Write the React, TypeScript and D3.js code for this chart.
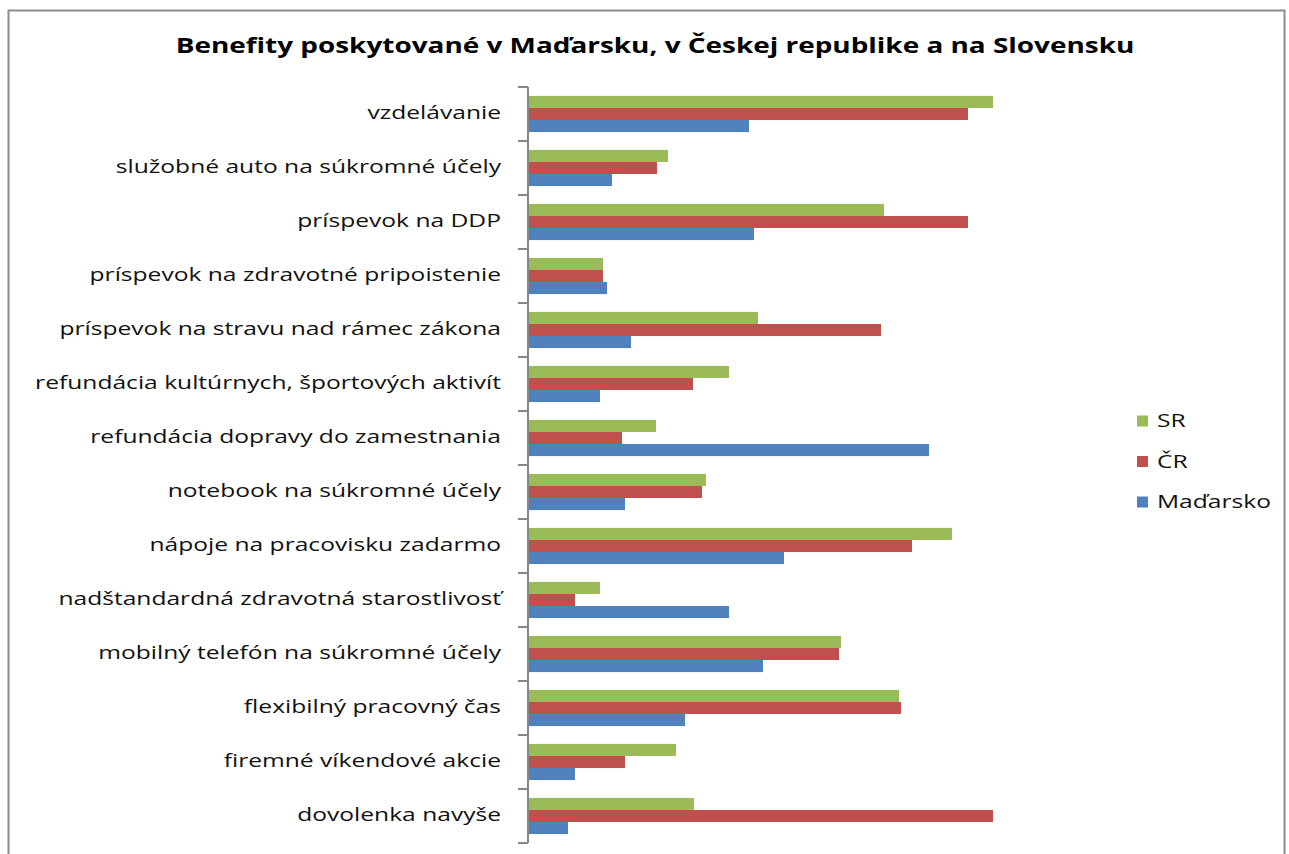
import React from "react";
import * as d3 from "d3";

const categories = [
  "vzdelávanie",
  "služobné auto na súkromné účely",
  "príspevok na DDP",
  "príspevok na zdravotné pripoistenie",
  "príspevok na stravu nad rámec zákona",
  "refundácia kultúrnych, športových aktivít",
  "refundácia dopravy do zamestnania",
  "notebook na súkromné účely",
  "nápoje na pracovisku zadarmo",
  "nadštandardná zdravotná starostlivosť",
  "mobilný telefón na súkromné účely",
  "flexibilný pracovný čas",
  "firemné víkendové akcie",
  "dovolenka navyše",
];

const seriesNames = ["SR", "ČR", "Maďarsko"];
const seriesColors = ["#9BBB59", "#C0504D", "#4F81BD"];

const sr = [465, 140, 356, 75, 230, 201, 128, 178, 424, 72, 313, 371, 148, 166];
const cr = [440, 129, 440, 75, 353, 165, 94, 174, 384, 47, 311, 373, 97, 465];
const hu = [221, 84, 226, 79, 103, 72, 401, 97, 256, 201, 235, 157, 47, 40];

const seriesValues = [sr, cr, hu];

const title = "Benefity poskytované v Maďarsku, v Českej republike a na Slovensku";

export default function App() {
  const W = 1289;
  const H = 854;
  const x0 = 528;
  const x = d3.scaleLinear().domain([0, 465]).range([x0, 993]);
  const y = d3
    .scaleBand<string>()
    .domain(categories)
    .range([87, 843])
    .paddingInner(0.33)
    .paddingOuter(0.165);
  const ySub = d3
    .scaleBand<number>()
    .domain([0, 1, 2])
    .range([0, y.bandwidth()]);
  const step = y.step();
  const tickYs = d3.range(categories.length + 1).map((i) => 87 + i * step);
  const font = "'Open Sans', 'DejaVu Sans', sans-serif";
  const sx = 1.33;

  return (
    <svg
      width={W}
      height={H}
      style={{ position: "absolute", left: 0, top: 0, background: "#fff" }}
      fontFamily={font}
    >
      <rect x={8.5} y={10.5} width={1276} height={860} fill="#fff" stroke="#8c8c8c" strokeWidth={2} />
      <g transform={`translate(655, 45) scale(${sx}, 1)`}>
        <text
          x={0}
          y={0}
          textAnchor="middle"
          fontSize={21}
          fontWeight="bold"
          fill="#000"
          dominantBaseline="central"
        >
          {title}
        </text>
      </g>
      {categories.map((c, i) => (
        <g key={c}>
          {seriesValues.map((vals, s) => (
            <rect
              key={s}
              x={x0}
              y={(y(c) as number) + (ySub(s) as number)}
              width={x(vals[i]) - x0}
              height={ySub.bandwidth()}
              fill={seriesColors[s]}
            />
          ))}
          <g transform={`translate(501, ${(y(c) as number) + y.bandwidth() / 2 - 2.5}) scale(${sx}, 1)`}>
            <text
              x={0}
              y={0}
              textAnchor="end"
              dominantBaseline="central"
              fontSize={18.5}
              fill="#111"
            >
              {c}
            </text>
          </g>
        </g>
      ))}
      <line x1={x0} x2={x0} y1={87} y2={843} stroke="#868686" strokeWidth={2} />
      {tickYs.map((t, i) => (
        <line key={i} x1={518} x2={x0} y1={t} y2={t} stroke="#868686" strokeWidth={2} />
      ))}
      {seriesNames.map((n, i) => (
        <g key={n} transform={`translate(1137, ${421 + i * 40.5})`}>
          <rect x={0} y={-5.5} width={11} height={11} fill={seriesColors[i]} />
          <g transform={`translate(20, -1) scale(${sx}, 1)`}>
            <text x={0} y={0} dominantBaseline="central" fontSize={18.5} fill="#111">
              {n}
            </text>
          </g>
        </g>
      ))}
    </svg>
  );
}
